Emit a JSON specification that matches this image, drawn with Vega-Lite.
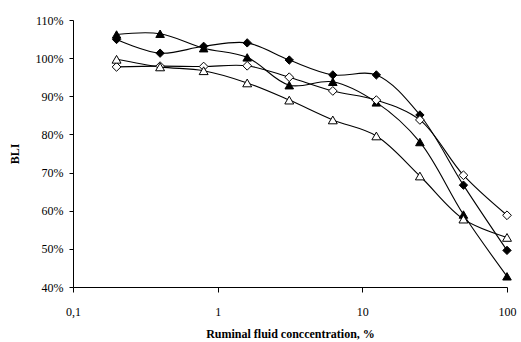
{
  "$schema": "https://vega.github.io/schema/vega-lite/v6.json",
  "autosize": {"type": "none"},
  "width": 434,
  "height": 267,
  "padding": {"left": 73, "top": 20, "right": 14, "bottom": 55},
  "background": "white",
  "config": {
    "view": {"stroke": null},
    "font": "Liberation Serif",
    "axis": {"grid": false, "domainColor": "black", "tickColor": "black", "labelColor": "black", "titleColor": "black", "labelFont": "Liberation Serif", "titleFont": "Liberation Serif", "labelFontSize": 12, "titleFontSize": 12, "titleFontWeight": "bold", "domainWidth": 1, "tickWidth": 1}
  },
  "data": {
    "values": [
      {"x": 0.2, "v": 1.049, "s": "A"}, {"x": 0.4, "v": 1.013, "s": "A"}, {"x": 0.8, "v": 1.031, "s": "A"}, {"x": 1.6, "v": 1.040, "s": "A"}, {"x": 3.125, "v": 0.995, "s": "A"}, {"x": 6.25, "v": 0.956, "s": "A"}, {"x": 12.5, "v": 0.956, "s": "A"}, {"x": 25, "v": 0.851, "s": "A"}, {"x": 50, "v": 0.667, "s": "A"}, {"x": 100, "v": 0.496, "s": "A"},
      {"x": 0.2, "v": 1.062, "s": "B"}, {"x": 0.4, "v": 1.064, "s": "B"}, {"x": 0.8, "v": 1.026, "s": "B"}, {"x": 1.6, "v": 1.002, "s": "B"}, {"x": 3.125, "v": 0.929, "s": "B"}, {"x": 6.25, "v": 0.938, "s": "B"}, {"x": 12.5, "v": 0.884, "s": "B"}, {"x": 25, "v": 0.780, "s": "B"}, {"x": 50, "v": 0.590, "s": "B"}, {"x": 100, "v": 0.428, "s": "B"},
      {"x": 0.2, "v": 0.977, "s": "C"}, {"x": 0.4, "v": 0.979, "s": "C"}, {"x": 0.8, "v": 0.978, "s": "C"}, {"x": 1.6, "v": 0.980, "s": "C"}, {"x": 3.125, "v": 0.950, "s": "C"}, {"x": 6.25, "v": 0.914, "s": "C"}, {"x": 12.5, "v": 0.890, "s": "C"}, {"x": 25, "v": 0.838, "s": "C"}, {"x": 50, "v": 0.693, "s": "C"}, {"x": 100, "v": 0.588, "s": "C"},
      {"x": 0.2, "v": 0.997, "s": "D"}, {"x": 0.4, "v": 0.977, "s": "D"}, {"x": 0.8, "v": 0.967, "s": "D"}, {"x": 1.6, "v": 0.935, "s": "D"}, {"x": 3.125, "v": 0.890, "s": "D"}, {"x": 6.25, "v": 0.838, "s": "D"}, {"x": 12.5, "v": 0.796, "s": "D"}, {"x": 25, "v": 0.691, "s": "D"}, {"x": 50, "v": 0.578, "s": "D"}, {"x": 100, "v": 0.530, "s": "D"}
    ]
  },
  "encoding": {
    "x": {
      "field": "x", "type": "quantitative",
      "scale": {"type": "log", "domain": [0.1, 100], "nice": false},
      "axis": {"values": [0.1, 1, 10, 100], "labelExpr": "datum.value < 0.5 ? '0,1' : format(datum.value, 'd')", "title": "Ruminal fluid conccentration, %", "tickSize": 5, "labelPadding": 14, "titlePadding": 11, "labelFlush": false}
    },
    "y": {
      "field": "v", "type": "quantitative",
      "scale": {"domain": [0.4, 1.1], "nice": false, "zero": false},
      "axis": {"values": [0.4, 0.5, 0.6, 0.7, 0.8, 0.9, 1.0, 1.1], "format": ".0%", "title": "BLI", "tickSize": 4, "labelPadding": 6, "titlePadding": 14}
    }
  },
  "layer": [
    {
      "mark": {"type": "line", "interpolate": "catmull-rom", "color": "black", "strokeWidth": 1.1},
      "encoding": {"detail": {"field": "s"}}
    },
    {
      "mark": {"type": "point", "filled": false, "strokeWidth": 1, "opacity": 1},
      "encoding": {
        "shape": {"field": "s", "type": "nominal", "scale": {"domain": ["A", "B", "C", "D"], "range": ["diamond", "triangle-up", "diamond", "triangle-up"]}, "legend": null},
        "fill": {"field": "s", "type": "nominal", "scale": {"domain": ["A", "B", "C", "D"], "range": ["black", "black", "white", "white"]}, "legend": null},
        "stroke": {"value": "black"},
        "size": {"field": "s", "type": "nominal", "scale": {"domain": ["A", "B", "C", "D"], "range": [70, 80, 55, 80]}, "legend": null}
      }
    }
  ]
}
